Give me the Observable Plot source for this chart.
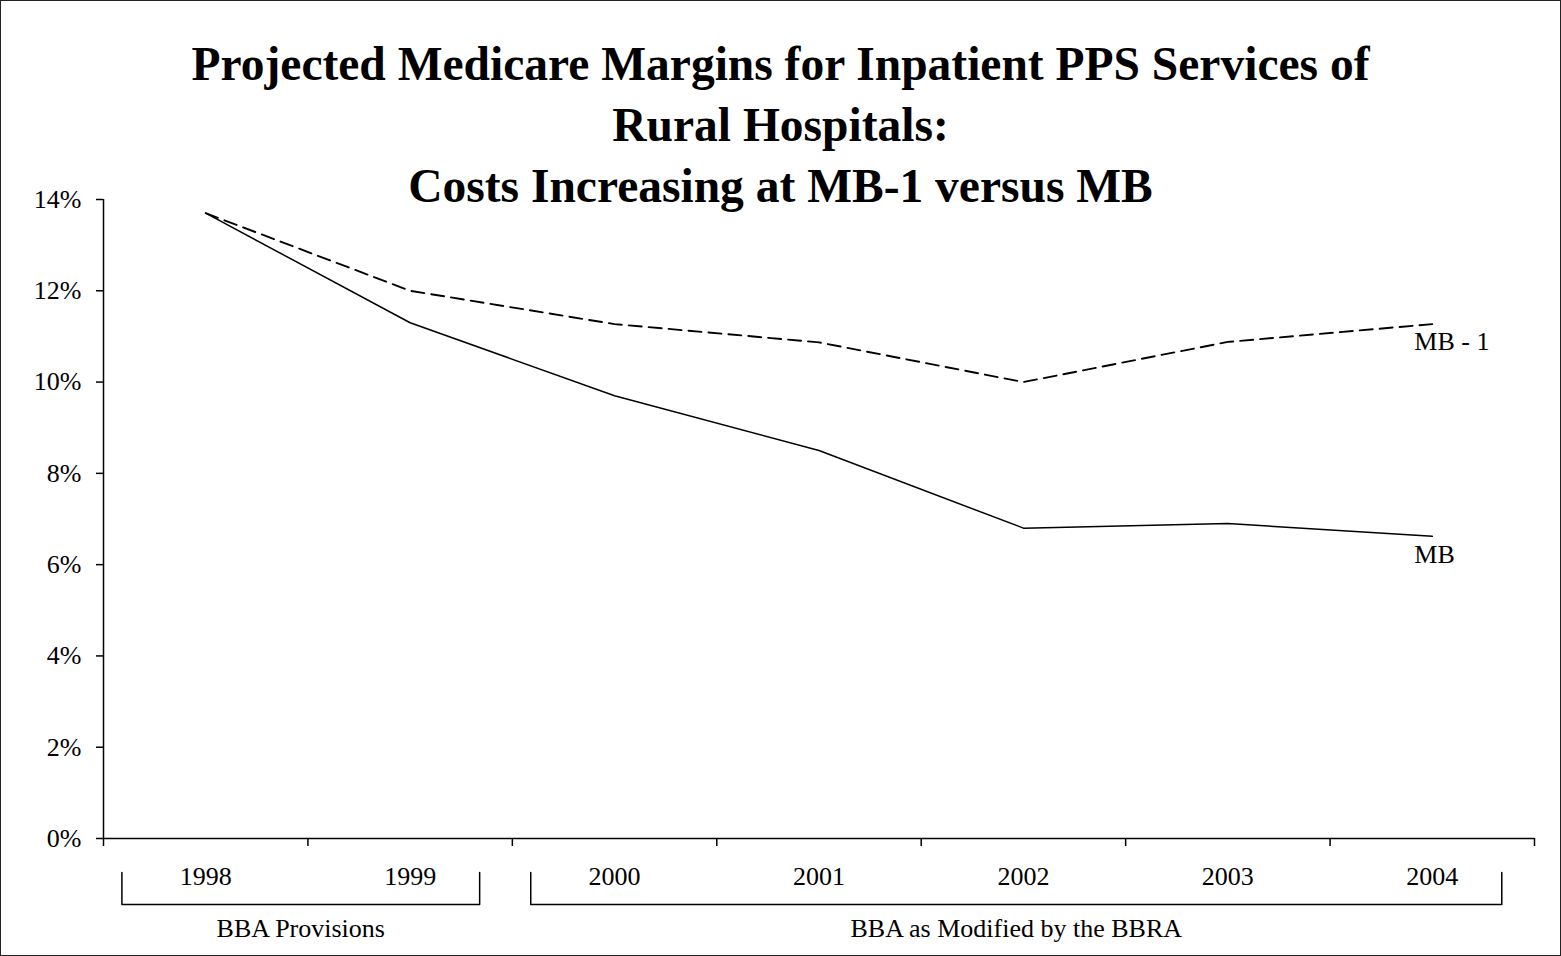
<!DOCTYPE html>
<html>
<head>
<meta charset="utf-8">
<script src="https://cdn.jsdelivr.net/npm/d3@7"></script>
<script src="https://cdn.jsdelivr.net/npm/@observablehq/plot@0.6"></script>
<style>
  html, body { margin: 0; padding: 0; background: #fff; }
  #wrap { position: relative; width: 1561px; height: 956px; overflow: hidden; }
  #border { position: absolute; left: 0; top: 0; width: 1561px; height: 956px; box-sizing: border-box; border: 1px solid #222; pointer-events: none; }
  #title { position: absolute; left: 0; top: 34px; width: 1561px; text-align: center;
    font-family: "Liberation Serif", "Times New Roman", serif; font-weight: bold; font-size: 47.5px; line-height: 61px; color: #000; }
  #chart { position: absolute; left: 0; top: 0; }
</style>
</head>
<body>
<div id="wrap">
  <div id="chart"></div>
  <div id="title">Projected Medicare Margins for Inpatient PPS Services of<br>Rural Hospitals:<br>Costs Increasing at MB-1 versus MB</div>
  <div id="border"></div>
</div>
<script>
// ---- Data ----
const years = ["1998", "1999", "2000", "2001", "2002", "2003", "2004"];
const mbValues = [13.7, 11.3, 9.7, 8.5, 6.8, 6.9, 6.62];          // MB (solid)
const mb1Values = [13.7, 12.0, 11.27, 10.87, 10.0, 10.88, 11.27]; // MB - 1 (dashed)
const seriesNames = ["MB", "MB - 1"];
const yTicks = [0, 2, 4, 6, 8, 10, 12, 14];
const groupLabels = ["BBA Provisions", "BBA as Modified by the BBRA"];
const groupFirstYear = ["1998", "2000"];
const groupLastYear = ["1999", "2004"];

// ---- Layout ----
const W = 1561, H = 956;
const mTop = 199, mBottom = 118, mLeft = 103, mRight = 27;
const pxPerPct = (H - mTop - mBottom) / 14;
const toPct = (px) => -px / pxPerPct; // pixel offset below baseline -> data units
const FS = 26;

const idx = (y) => years.indexOf(y);
const mb = years.map((y, i) => ({year: y, i: i + 0.5, v: mbValues[i]}));
const mb1 = years.map((y, i) => ({year: y, i: i + 0.5, v: mb1Values[i]}));
const ends = [
  {name: seriesNames[1], i: years.length - 0.5, v: mb1Values[mb1Values.length - 1]},
  {name: seriesNames[0], i: years.length - 0.5, v: mbValues[mbValues.length - 1]}
];

const bTop = toPct(34), bBot = toPct(66);
const brackets = groupLabels.map((label, g) => {
  const left = idx(groupFirstYear[g]) + 0.09;
  const right = idx(groupLastYear[g]) + 0.84;
  return {label, left, right, mid: (left + right) / 2};
});
const bracketPts = brackets.flatMap((b, g) => [
  {g, x: b.left, y: bTop}, {g, x: b.left, y: bBot},
  {g, x: b.right, y: bBot}, {g, x: b.right, y: bTop}
]);

const font = "Liberation Serif, Times New Roman, serif";

const plot = Plot.plot({
  width: W, height: H,
  marginTop: mTop, marginBottom: mBottom, marginLeft: mLeft, marginRight: mRight,
  style: {fontFamily: font, fontSize: FS + "px", color: "#000", background: "transparent", overflow: "visible"},
  x: {domain: [0, years.length], axis: null},
  y: {domain: [0, 14], axis: null},
  marks: [
    Plot.axisY({ticks: yTicks, tickFormat: d => d + "%", tickSize: 7, tickPadding: 15, fontSize: FS, strokeWidth: 1.5, label: null}),
    Plot.axisX({ticks: d3.range(years.length + 1), tickFormat: () => "", tickSize: 8, strokeWidth: 1.5, label: null}),
    Plot.ruleX([0], {stroke: "#000", strokeWidth: 1.5}),
    Plot.ruleY([0], {stroke: "#000", strokeWidth: 1.5}),
    Plot.line(mb, {x: "i", y: "v", stroke: "#000", strokeWidth: 1.5}),
    Plot.line(mb1, {x: "i", y: "v", stroke: "#000", strokeWidth: 1.9, strokeDasharray: "13,7"}),
    Plot.text(ends, {x: "i", y: "v", text: "name", textAnchor: "start", dx: -18, dy: 18, fontSize: FS, fill: "#000"}),
    Plot.text(years, {x: (d, i) => i + 0.5, text: d => d, frameAnchor: "bottom", dy: 46, fontSize: FS, fill: "#000"}),
    Plot.line(bracketPts, {x: "x", y: "y", z: "g", stroke: "#000", strokeWidth: 1.5, curve: "linear"}),
    Plot.text(brackets, {x: "mid", text: "label", frameAnchor: "bottom", dy: 98, fontSize: FS, fill: "#000"})
  ]
});
document.getElementById("chart").appendChild(plot);
</script>
</body>
</html>
